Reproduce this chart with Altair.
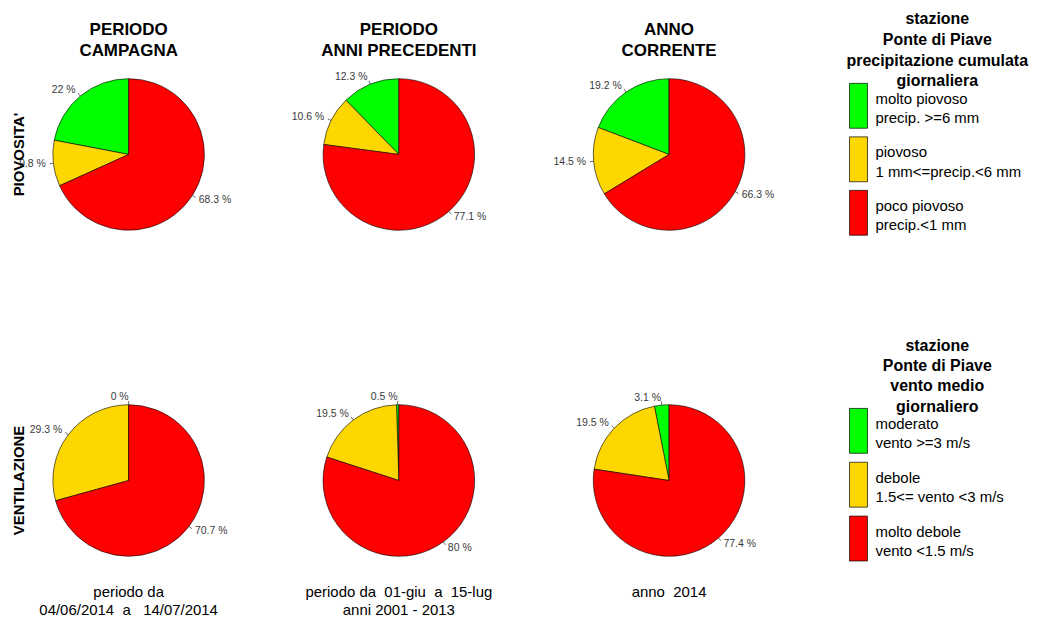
import altair as alt
import pandas as pd

# ---------------- data ----------------
cat_piovosita = ["molto piovoso", "piovoso", "poco piovoso"]
desc_piovosita = ["precip. >=6 mm", "1 mm<=precip.<6 mm", "precip.<1 mm"]
cat_vento = ["moderato", "debole", "molto debole"]
desc_vento = ["vento >=3 m/s", "1.5<= vento <3 m/s", "vento <1.5 m/s"]
colori = ["#00FF00", "#FFD700", "#FF0000"]

titoli_colonne = [["PERIODO", "CAMPAGNA"], ["PERIODO", "ANNI PRECEDENTI"], ["ANNO", "CORRENTE"]]
NB = "\u00a0"
piedi = [["periodo da", f"04/06/2014{NB}{NB}a{NB}{NB}{NB}14/07/2014"],
         [f"periodo da{NB}{NB}01-giu{NB}{NB}a{NB}{NB}15-lug", "anni 2001 - 2013"],
         [f"anno{NB}{NB}2014"]]
titoli_righe = ["PIOVOSITA'", "VENTILAZIONE"]
titoli_legenda = [["stazione", "Ponte di Piave", "precipitazione cumulata", "giornaliera"],
                  ["stazione", "Ponte di Piave", "vento medio", "giornaliero"]]

piovosita_campagna = [22, 9.8, 68.3]
piovosita_precedenti = [12.3, 10.6, 77.1]
piovosita_corrente = [19.2, 14.5, 66.3]
ventilazione_campagna = [0, 29.3, 70.7]
ventilazione_precedenti = [0.5, 19.5, 80]
ventilazione_corrente = [3.1, 19.5, 77.4]

# ---------------- layout / style ----------------
FONT = "Liberation Sans"
R = 76
W = 242
H1 = 292
H2 = 272
LEG_W = 208


def text_layer(s, x, y, size, weight="normal", angle=None, align="center"):
    kw = dict(text=s, fontSize=size, fontWeight=weight, align=align,
              baseline="middle", color="black", font=FONT)
    if angle is not None:
        kw["angle"] = angle
    return alt.Chart(alt.Data(values=[{}])).mark_text(**kw).encode(
        x=alt.value(x), y=alt.value(y))


def pie_view(values, cats, height, extra):
    half = height / 2
    df = pd.DataFrame({
        "categoria": cats,
        "valore": values,
        "colore": colori,
        "ordine": [2, 1, 0],
        "etichetta": [f"{v:g} %" for v in values],
    })
    xs = alt.Scale(domain=[-W / 2, W / 2], nice=False, zero=False)
    ys = alt.Scale(domain=[-half, half], nice=False, zero=False)
    base = alt.Chart(df)
    arc = base.mark_arc(radius=R, stroke="black", strokeWidth=0.6).encode(
        theta=alt.Theta("valore:Q", stack=True),
        order=alt.Order("ordine:Q", sort="ascending"),
        color=alt.Color("colore:N", scale=None),
    )
    geo = (
        base.transform_joinaggregate(tot="sum(valore)")
        .transform_window(cum="sum(valore)", sort=[alt.SortField("ordine", order="ascending")],
                          frame=[None, 0])
        .transform_calculate(ang="2*PI*(datum.cum - datum.valore/2)/datum.tot")
        .transform_calculate(sx="sin(datum.ang)", cy="cos(datum.ang)")
        .transform_calculate(
            x0=f"{R}*datum.sx", y0=f"{R}*datum.cy",
            x1=f"{R * 1.05}*datum.sx", y1=f"{R * 1.05}*datum.cy",
            xt=f"{R * 1.1}*datum.sx", yt=f"{R * 1.1}*datum.cy",
        )
    )
    rule = geo.mark_rule(color="#444444", strokeWidth=0.8).encode(
        x=alt.X("x0:Q", scale=xs, axis=None),
        y=alt.Y("y0:Q", scale=ys, axis=None),
        x2="x1:Q", y2="y1:Q",
    )
    lab_r = geo.transform_filter("datum.sx >= 0").mark_text(
        align="left", baseline="middle", fontSize=10.5, color="#3a3a3a", font=FONT
    ).encode(
        x=alt.X("xt:Q", scale=xs, axis=None),
        y=alt.Y("yt:Q", scale=ys, axis=None),
        text="etichetta:N",
    )
    lab_l = geo.transform_filter("datum.sx < 0").mark_text(
        align="right", baseline="middle", fontSize=10.5, color="#3a3a3a", font=FONT
    ).encode(
        x=alt.X("xt:Q", scale=xs, axis=None),
        y=alt.Y("yt:Q", scale=ys, axis=None),
        text="etichetta:N",
    )
    return alt.layer(arc, rule, lab_r, lab_l, *extra).properties(width=W, height=height)


def legend_view(cats, descs, title_lines, title_ys, y0, step, height):
    df = pd.DataFrame({"categoria": cats, "descrizione": descs, "colore": colori})
    band = 45
    yscale = alt.Scale(domain=cats, range=[y0, y0 + 2 * step + band],
                       paddingInner=(step - band) / step, paddingOuter=0)
    base = alt.Chart(df)
    rects = base.mark_rect(stroke="black", strokeWidth=0.7).encode(
        x=alt.value(31), x2=alt.value(49),
        y=alt.Y("categoria:N", scale=yscale, axis=None),
        color=alt.Color("colore:N", scale=None),
    )
    l1 = base.mark_text(align="left", baseline="middle", fontSize=15, dy=-7,
                        font=FONT, color="black").encode(
        x=alt.value(57), y=alt.Y("categoria:N", scale=yscale, axis=None), text="categoria:N")
    l2 = base.mark_text(align="left", baseline="middle", fontSize=15, dy=12.5,
                        font=FONT, color="black").encode(
        x=alt.value(57), y=alt.Y("categoria:N", scale=yscale, axis=None), text="descrizione:N")
    titles = [text_layer(t, 119, yy, 16, "bold") for t, yy in zip(title_lines, title_ys)]
    return alt.layer(rects, l1, l2, *titles).properties(width=LEG_W, height=height)


row1_vals = [piovosita_campagna, piovosita_precedenti, piovosita_corrente]
row2_vals = [ventilazione_campagna, ventilazione_precedenti, ventilazione_corrente]

row1 = []
for i, vals in enumerate(row1_vals):
    extra = [text_layer(t, W / 2, yy, 17, "bold") for t, yy in zip(titoli_colonne[i], [21.5, 42.5])]
    if i == 0:
        extra.append(text_layer(titoli_righe[0], 11, H1 / 2, 15, "bold", angle=270))
    row1.append(pie_view(vals, cat_piovosita, H1, extra))
row1.append(legend_view(cat_piovosita, desc_piovosita, titoli_legenda[0],
                        [10.5, 31, 52, 72.5], 74.7, 53.65, H1))

row2 = []
for i, vals in enumerate(row2_vals):
    extra = [text_layer(t, W / 2, yy, 15) for t, yy in zip(piedi[i], [248, 266])]
    if i == 0:
        extra.append(text_layer(titoli_righe[1], 11, H2 / 2, 15, "bold", angle=270))
    row2.append(pie_view(vals, cat_vento, H2, extra))
row2.append(legend_view(cat_vento, desc_vento, titoli_legenda[1],
                        [1, 21, 41, 62], 63.7, 54, H2))

r1 = alt.hconcat(*row1, spacing=29, bounds="flush").resolve_scale(
    x="independent", y="independent", theta="independent")
r2 = alt.hconcat(*row2, spacing=29, bounds="flush").resolve_scale(
    x="independent", y="independent", theta="independent")

chart = (
    alt.vconcat(r1, r2, spacing=38)
    .resolve_scale(x="independent", y="independent", theta="independent")
    .properties(padding=0, background="white")
    .configure(font=FONT)
    .configure_view(strokeWidth=0, stroke="transparent")
)

chart.save("out.html", embed_options={"renderer": "svg", "actions": False})
